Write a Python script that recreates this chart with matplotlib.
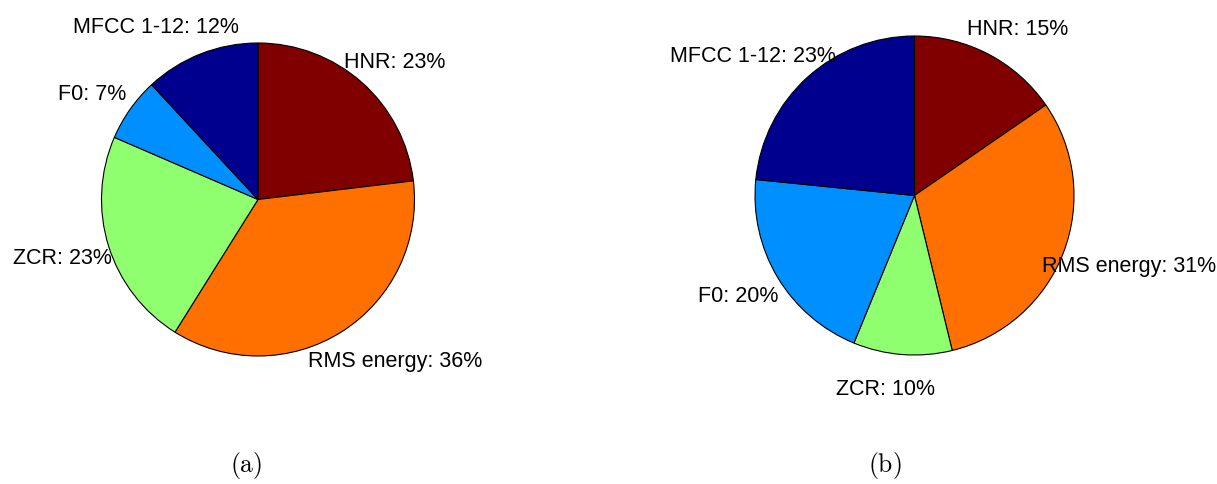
import numpy as np
import matplotlib.pyplot as plt

plt.rcParams['font.family'] = ['Liberation Sans', 'DejaVu Sans']
plt.rcParams['mathtext.fontset'] = 'cm'

# feature shares (%), clockwise from 12 o'clock
features = ['HNR', 'RMS energy', 'ZCR', 'F0', 'MFCC 1-12']
share_a  = [23.1, 35.8, 22.6, 6.6, 11.9]
share_b  = [15.4, 30.8, 10.0, 20.4, 23.4]
captions = ['(a)', '(b)']

# jet-like colours, one per feature
colors = ['#800000', '#ff7000', '#8fff70', '#008fff', '#00008f']

# layout (pixels, measured from top-left) ---------------------------------
W, H = 1217, 485
pie_a = (258.0, 200.5, 156.5)     # cx, cy, radius
pie_b = (914.5, 196.5, 159.5)
nudge_a = [0.077, 0.236, -0.102, -0.083, -0.217]   # horizontal label shift (radius units)
nudge_b = [0.088, 0.226, -0.091, -0.075, -0.207]
caption_xy = [(246, 466), (885, 466)]

fig = plt.figure(figsize=(W / 100, H / 100), dpi=100)


def draw_pie(geom, shares, nudges):
    cx, cy, r = geom
    k = 1.9
    ax = fig.add_axes([(cx - k * r) / W, (H - cy - k * r) / H, 2 * k * r / W, 2 * k * r / H])
    ax.pie(shares, colors=colors, startangle=90, counterclock=False, radius=1,
           wedgeprops=dict(edgecolor='black', linewidth=0.8))
    ax.set_xlim(-k, k)
    ax.set_ylim(-k, k)
    ax.axis('off')

    total = sum(shares)
    cum = 0.0
    for name, s, dx in zip(features, shares, nudges):
        theta = np.deg2rad(90 - 360 * (cum + s / 2) / total)
        cum += s
        x = 1.2 * np.cos(theta) + dx
        y = 1.2 * np.sin(theta) - 7.5 / r
        ax.text(x, y, f"{name}: {s:.0f}%", ha='center', va='baseline',
                fontsize=15.5, color='black')
    return ax


draw_pie(pie_a, share_a, nudge_a)
draw_pie(pie_b, share_b, nudge_b)

for cap, (x, y) in zip(captions, caption_xy):
    fig.text(x / W, 1 - y / H, r'$\mathrm{' + cap + '}$', ha='center', va='center',
             fontsize=18.5)

fig.savefig('out.png', dpi=100)
